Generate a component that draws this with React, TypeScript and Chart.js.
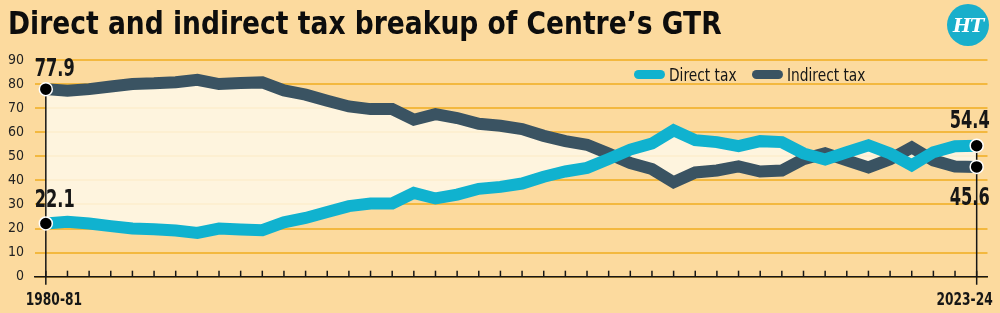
import React, { useEffect, useRef } from "react";
import { Chart, registerables } from "chart.js";

Chart.register(...registerables);

const years = [
  "1980-81", "1981-82", "1982-83", "1983-84", "1984-85", "1985-86", "1986-87", "1987-88",
  "1988-89", "1989-90", "1990-91", "1991-92", "1992-93", "1993-94", "1994-95", "1995-96",
  "1996-97", "1997-98", "1998-99", "1999-00", "2000-01", "2001-02", "2002-03", "2003-04",
  "2004-05", "2005-06", "2006-07", "2007-08", "2008-09", "2009-10", "2010-11", "2011-12",
  "2012-13", "2013-14", "2014-15", "2015-16", "2016-17", "2017-18", "2018-19", "2019-20",
  "2020-21", "2021-22", "2022-23", "2023-24",
];

const directTax = [
  22.1, 22.8, 22.1, 21.0, 20.0, 19.7, 19.2, 18.2, 20.0, 19.6, 19.3,
  22.6, 24.4, 26.9, 29.3, 30.4, 30.4, 34.8, 32.5, 34.1, 36.5, 37.3,
  38.7, 41.5, 43.7, 45.2, 48.9, 52.8, 55.3, 60.8, 56.7, 55.9, 54.2,
  56.3, 55.9, 51.2, 48.7, 51.7, 54.6, 51.2, 46.3, 51.7, 54.2, 54.4,
];

const indirectTax = [
  77.9, 77.2, 77.9, 79.0, 80.0, 80.3, 80.8, 81.8, 80.0, 80.4, 80.7,
  77.4, 75.6, 73.1, 70.7, 69.6, 69.6, 65.2, 67.5, 65.9, 63.5, 62.7,
  61.3, 58.5, 56.3, 54.8, 51.1, 47.2, 44.7, 39.2, 43.3, 44.1, 45.8,
  43.7, 44.1, 48.8, 51.3, 48.3, 45.4, 48.8, 53.7, 48.3, 45.8, 45.6,
];

const yMin = 0;
const yMax = 90;
const yStep = 10;

const seriesNames = ["Direct tax", "Indirect tax"];
const TITLE = "Direct and indirect tax breakup of Centre’s GTR";

const FONT = '"DejaVu Sans Condensed", "DejaVu Sans", "Liberation Sans", sans-serif';
const BG = "#FCDA9E";
const GRID = "#F3B83F";
const CYAN = "#10B2CF";
const DARK = "#3A5362";
const CREAM = "rgba(254, 248, 233, 0.86)";
const INK = "#161616";

function squeezeText(ctx: CanvasRenderingContext2D, text: string, x: number, y: number, align: CanvasTextAlign, sx: number) {
  ctx.save();
  ctx.translate(x, y);
  ctx.scale(sx, 1);
  ctx.textAlign = align;
  ctx.fillText(text, 0, 0);
  ctx.restore();
}

const endMarkers = {
  id: "endMarkers",
  afterDatasetsDraw(chart: any) {
    const { ctx, scales } = chart;
    const x = scales.x;
    const y = scales.y;
    const n = years.length - 1;
    const x0 = x.getPixelForValue(0);
    const x1 = x.getPixelForValue(n);
    const axisY = y.getPixelForValue(0);
    ctx.save();
    ctx.strokeStyle = INK;
    ctx.lineWidth = 1.5;
    for (let i = 0; i <= n; i++) {
      const px = x.getPixelForValue(i);
      ctx.beginPath();
      ctx.moveTo(px, axisY);
      ctx.lineTo(px, axisY - 6);
      ctx.stroke();
    }
    const topL = y.getPixelForValue(Math.max(directTax[0], indirectTax[0]));
    const topR = y.getPixelForValue(Math.max(directTax[n], indirectTax[n]));
    ctx.beginPath();
    ctx.moveTo(x0, topL);
    ctx.lineTo(x0, axisY + 8);
    ctx.moveTo(x1, topR);
    ctx.lineTo(x1, axisY + 8);
    ctx.stroke();
    const dots = [
      [x0, y.getPixelForValue(directTax[0])],
      [x0, y.getPixelForValue(indirectTax[0])],
      [x1, y.getPixelForValue(directTax[n])],
      [x1, y.getPixelForValue(indirectTax[n])],
    ];
    dots.forEach(([px, py]) => {
      ctx.beginPath();
      ctx.arc(px, py, 6.5, 0, Math.PI * 2);
      ctx.fillStyle = "#000";
      ctx.fill();
      ctx.lineWidth = 1.5;
      ctx.strokeStyle = "#fff";
      ctx.stroke();
    });
    ctx.fillStyle = INK;
    ctx.font = `bold 24px ${FONT}`;
    ctx.textBaseline = "alphabetic";
    squeezeText(ctx, indirectTax[0].toFixed(1), x0 - 11, y.getPixelForValue(indirectTax[0]) - 13, "left", 0.75);
    squeezeText(ctx, directTax[0].toFixed(1), x0 - 11, y.getPixelForValue(directTax[0]) - 16, "left", 0.75);
    squeezeText(ctx, directTax[n].toFixed(1), x1 + 13, y.getPixelForValue(directTax[n]) - 18, "right", 0.75);
    ctx.textBaseline = "top";
    squeezeText(ctx, indirectTax[n].toFixed(1), x1 + 13, y.getPixelForValue(indirectTax[n]) + 20, "right", 0.75);
    ctx.font = `bold 17px ${FONT}`;
    ctx.textBaseline = "alphabetic";
    squeezeText(ctx, years[0], x0 - 20, axisY + 28, "left", 0.8);
    squeezeText(ctx, years[n], x1 + 16, axisY + 28, "right", 0.8);
    ctx.restore();
  },
};

export default function App() {
  const ref = useRef<HTMLCanvasElement | null>(null);

  useEffect(() => {
    if (!ref.current) return;
    const chart = new Chart(ref.current, {
      type: "line",
      data: {
        labels: years,
        datasets: [
          {
            label: seriesNames[0],
            data: directTax,
            borderColor: CYAN,
            backgroundColor: CREAM,
            borderWidth: 12,
            pointRadius: 0,
            tension: 0,
            borderJoinStyle: "miter",
            fill: "+1",
          },
          {
            label: seriesNames[1],
            data: indirectTax,
            borderColor: DARK,
            backgroundColor: DARK,
            borderWidth: 12,
            pointRadius: 0,
            tension: 0,
            borderJoinStyle: "miter",
            fill: false,
          },
        ],
      },
      options: {
        responsive: false,
        animation: false,
        devicePixelRatio: 1,
        layout: { padding: { top: 60, right: 12.5, left: 0, bottom: 0 } },
        plugins: {
          legend: { display: false },
          tooltip: { enabled: false },
          title: { display: false },
          filler: { drawTime: "beforeDatasetsDraw" },
        },
        scales: {
          x: {
            type: "category",
            offset: true,
            grid: { display: false, drawTicks: false },
            border: { display: true, color: INK, width: 1.5 },
            ticks: { display: false },
            afterFit(s: any) {
              s.height = 36.3;
            },
          },
          y: {
            min: yMin,
            max: yMax,
            ticks: {
              stepSize: yStep,
              padding: 11,
              color: "#222",
              font: { family: FONT, size: 14 },
            },
            grid: { color: GRID, lineWidth: 2, drawTicks: false },
            border: { display: false },
            afterFit(s: any) {
              s.width = 35;
            },
          },
        },
      },
      plugins: [endMarkers],
    } as any);
    return () => chart.destroy();
  }, []);

  const legendText: React.CSSProperties = {
    position: "absolute",
    top: 67,
    fontSize: 17,
    lineHeight: "17px",
    color: INK,
    whiteSpace: "nowrap",
    transform: "scaleX(0.9)",
    transformOrigin: "left center",
  };
  const pill = (left: number, color: string): React.CSSProperties => ({
    position: "absolute",
    left,
    top: 70,
    width: 31,
    height: 9,
    borderRadius: 5,
    background: color,
  });

  return (
    <div
      style={{
        position: "fixed",
        left: 0,
        top: 0,
        width: 1000,
        height: 313,
        background: BG,
        overflow: "hidden",
        fontFamily: FONT,
      }}
    >
      <canvas ref={ref} width={1000} height={313} style={{ position: "absolute", left: 0, top: 0 }} />
      <div
        style={{
          position: "absolute",
          left: 8,
          top: 7,
          fontSize: 32,
          lineHeight: "32px",
          fontWeight: 700,
          color: "#0d0d0d",
          whiteSpace: "nowrap",
          transform: "scaleX(0.922)",
          transformOrigin: "left center",
        }}
      >
        {TITLE}
      </div>
      <div
        style={{
          position: "absolute",
          left: 947,
          top: 4,
          width: 42,
          height: 42,
          borderRadius: "50%",
          background: "#19AFCB",
          color: "#fff",
          display: "flex",
          alignItems: "center",
          justifyContent: "center",
          fontFamily: '"DejaVu Serif", "Liberation Serif", serif',
          fontWeight: 700,
          fontStyle: "italic",
          fontSize: 19,
          letterSpacing: -1,
        }}
      >
        HT
      </div>
      <div style={pill(634, CYAN)} />
      <div style={{ ...legendText, left: 669 }}>{seriesNames[0]}</div>
      <div style={pill(752, DARK)} />
      <div style={{ ...legendText, left: 787 }}>{seriesNames[1]}</div>
    </div>
  );
}
